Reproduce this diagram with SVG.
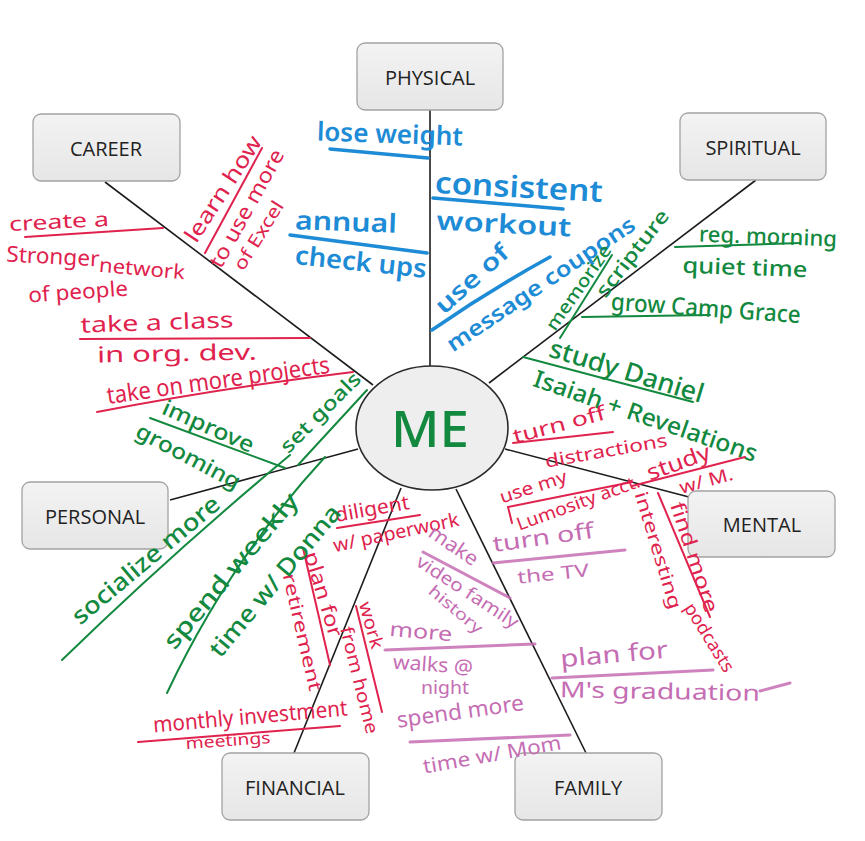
<svg xmlns="http://www.w3.org/2000/svg" width="865" height="841" viewBox="0 0 865 841">
<defs>
<linearGradient id="boxg" x1="0" y1="0" x2="0" y2="1">
<stop offset="0" stop-color="#f3f3f3"/>
<stop offset="1" stop-color="#e6e6e6"/>
</linearGradient>
</defs>
<style>
.box{fill:url(#boxg);stroke:#a2a2a2;stroke-width:1.3}
.lbl{font-family:"Open Sans","Liberation Sans",sans-serif;font-size:20px;fill:#222;text-anchor:middle;dominant-baseline:central}
.hw{font-family:"Noto Sans","DejaVu Sans",sans-serif;text-anchor:middle;dominant-baseline:central}
.r{fill:#e0224e}
.b{fill:#1d8bd5;font-weight:600}
.g{fill:#13893f;font-weight:500}
.p{fill:#c56db3}
.con{stroke:#1c1c1c;stroke-width:1.6;fill:none}
.ur{stroke:#e0224e;stroke-width:2;fill:none;stroke-linecap:round}
.ub{stroke:#1d8bd5;stroke-width:3.5;fill:none;stroke-linecap:round}
.ug{stroke:#13893f;stroke-width:2;fill:none;stroke-linecap:round}
.up{stroke:#c56db3;stroke-width:3;fill:none;stroke-linecap:round;opacity:0.85}
</style>
<rect width="865" height="841" fill="#ffffff"/>

<g id="connectors">
<line class="con" x1="430" y1="110" x2="430" y2="366"/>
<line class="con" x1="105" y1="182" x2="373" y2="385"/>
<line class="con" x1="756" y1="180" x2="489" y2="383"/>
<line class="con" x1="170" y1="500" x2="358" y2="449"/>
<line class="con" x1="505" y1="449" x2="689" y2="497"/>
<line class="con" x1="401" y1="488" x2="294" y2="753"/>
<line class="con" x1="456" y1="489" x2="586" y2="753"/>
</g>

<g id="node-me">
<ellipse cx="432" cy="428" rx="76" ry="62" fill="#eeeeee" stroke="#2a2a2a" stroke-width="1.6"/>
<text class="hw g" x="430" y="428" font-size="50" font-weight="400" textLength="78" lengthAdjust="spacingAndGlyphs">ME</text>
</g>
<g id="node-physical"><rect class="box" x="357" y="43" width="146" height="67" rx="8"/><text class="lbl" x="430" y="77">PHYSICAL</text></g>
<g id="node-career"><rect class="box" x="33" y="114" width="147" height="67" rx="8"/><text class="lbl" x="106" y="148">CAREER</text></g>
<g id="node-spiritual"><rect class="box" x="680" y="113" width="146" height="67" rx="8"/><text class="lbl" x="753" y="147">SPIRITUAL</text></g>
<g id="node-personal"><rect class="box" x="22" y="482" width="146" height="67" rx="8"/><text class="lbl" x="95" y="516">PERSONAL</text></g>
<g id="node-mental"><rect class="box" x="688" y="491" width="147" height="66" rx="8"/><text class="lbl" x="762" y="524">MENTAL</text></g>
<g id="node-financial"><rect class="box" x="222" y="753" width="147" height="67" rx="8"/><text class="lbl" x="295" y="787">FINANCIAL</text></g>
<g id="node-family"><rect class="box" x="515" y="753" width="147" height="67" rx="8"/><text class="lbl" x="588" y="787">FAMILY</text></g>

<g id="notes-career">
<text class="hw r" x="59" y="221" font-size="20" textLength="100" lengthAdjust="spacingAndGlyphs" transform="rotate(-3 59 221)">create a</text>
<line class="ur" x1="25" y1="237" x2="163" y2="228"/>
<text class="hw r" x="53" y="255" font-size="22" textLength="93" lengthAdjust="spacingAndGlyphs" transform="rotate(3 53 255)">Stronger</text>
<text class="hw r" x="142" y="268" font-size="20" textLength="86" lengthAdjust="spacingAndGlyphs" transform="rotate(5 142 268)">network</text>
<text class="hw r" x="78" y="291" font-size="21" textLength="100" lengthAdjust="spacingAndGlyphs" transform="rotate(-4 78 291)">of people</text>
<text class="hw r" x="222" y="188" font-size="22" textLength="122" lengthAdjust="spacingAndGlyphs" transform="rotate(-57 222 188)">learn how</text>
<line class="ur" x1="205" y1="253" x2="262" y2="148"/>
<text class="hw r" x="246" y="208" font-size="21" textLength="132" lengthAdjust="spacingAndGlyphs" transform="rotate(-61 246 208)">to use more</text>
<text class="hw r" x="258" y="235" font-size="18" textLength="78" lengthAdjust="spacingAndGlyphs" transform="rotate(-58 258 235)">of Excel</text>
<text class="hw r" x="157" y="321" font-size="22" textLength="153" lengthAdjust="spacingAndGlyphs" transform="rotate(-2 157 321)">take a class</text>
<line class="ur" x1="80" y1="339" x2="310" y2="338"/>
<text class="hw r" x="177" y="352" font-size="22" textLength="160" lengthAdjust="spacingAndGlyphs" transform="rotate(-1 177 352)">in org. dev.</text>
<text class="hw r" x="218" y="379" font-size="24" textLength="225" lengthAdjust="spacingAndGlyphs" transform="rotate(-8 218 379)">take on more projects</text>
<path class="ur" d="M97 412 Q220 388 353 372"/>
</g>

<g id="notes-physical">
<text class="hw b" x="390" y="133" font-size="26" textLength="146" lengthAdjust="spacingAndGlyphs" transform="rotate(2 390 133)">lose weight</text>
<line class="ub" x1="330" y1="149" x2="428" y2="158"/>
<text class="hw b" x="519" y="186" font-size="30" textLength="168" lengthAdjust="spacingAndGlyphs" transform="rotate(3 519 186)">consistent</text>
<line class="ub" x1="433" y1="198" x2="563" y2="209"/>
<text class="hw b" x="504" y="223" font-size="26" textLength="135" lengthAdjust="spacingAndGlyphs" transform="rotate(3 504 223)">workout</text>
<text class="hw b" x="346" y="221" font-size="26" textLength="102" lengthAdjust="spacingAndGlyphs" transform="rotate(2 346 221)">annual</text>
<line class="ub" x1="290" y1="235" x2="427" y2="253"/>
<text class="hw b" x="361" y="261" font-size="26" textLength="132" lengthAdjust="spacingAndGlyphs" transform="rotate(6 361 261)">check ups</text>
<text class="hw b" x="471" y="278" font-size="24" textLength="90" lengthAdjust="spacingAndGlyphs" transform="rotate(-42 471 278)">use of</text>
<path class="ub" d="M432 330 Q490 290 550 257"/>
<text class="hw b" x="540" y="283" font-size="22" textLength="222" lengthAdjust="spacingAndGlyphs" transform="rotate(-34 540 283)">message coupons</text>
</g>

<g id="notes-spiritual">
<text class="hw g" x="578" y="287" font-size="18" textLength="100" lengthAdjust="spacingAndGlyphs" transform="rotate(-55 578 287)">memorize</text>
<line class="ug" x1="560" y1="338" x2="612" y2="255"/>
<text class="hw g" x="632" y="253" font-size="20" textLength="105" lengthAdjust="spacingAndGlyphs" transform="rotate(-52 632 253)">scripture</text>
<text class="hw g" x="768" y="235" font-size="22" textLength="138" lengthAdjust="spacingAndGlyphs" transform="rotate(2 768 235)">reg. morning</text>
<line class="ug" x1="675" y1="247" x2="800" y2="243"/>
<text class="hw g" x="745" y="266" font-size="22" textLength="125" lengthAdjust="spacingAndGlyphs" transform="rotate(2 745 266)">quiet time</text>
<text class="hw g" x="706" y="307" font-size="24" textLength="190" lengthAdjust="spacingAndGlyphs" transform="rotate(4 706 307)">grow Camp Grace</text>
<line class="ug" x1="582" y1="317" x2="710" y2="315"/>
<text class="hw g" x="627" y="370" font-size="26" textLength="160" lengthAdjust="spacingAndGlyphs" transform="rotate(17 627 370)">study Daniel</text>
<line class="ug" x1="523" y1="357" x2="693" y2="402"/>
<text class="hw g" x="646" y="415" font-size="24" textLength="235" lengthAdjust="spacingAndGlyphs" transform="rotate(19 646 415)">Isaiah + Revelations</text>
</g>

<g id="notes-mental">
<text class="hw r" x="559" y="424" font-size="20" textLength="95" lengthAdjust="spacingAndGlyphs" transform="rotate(-15 559 424)">turn off</text>
<line class="ur" x1="513" y1="443" x2="613" y2="432"/>
<text class="hw r" x="606" y="450" font-size="18" textLength="124" lengthAdjust="spacingAndGlyphs" transform="rotate(-10 606 450)">distractions</text>
<text class="hw r" x="533" y="486" font-size="18" textLength="70" lengthAdjust="spacingAndGlyphs" transform="rotate(-18 533 486)">use my</text>
<polyline class="ur" points="512,523 508,507 632,482"/>
<text class="hw r" x="578" y="502" font-size="18" textLength="130" lengthAdjust="spacingAndGlyphs" transform="rotate(-20 578 502)">Lumosity acct.</text>
<text class="hw r" x="678" y="461" font-size="22" textLength="66" lengthAdjust="spacingAndGlyphs" transform="rotate(-20 678 461)">study</text>
<line class="ur" x1="632" y1="486" x2="745" y2="457"/>
<text class="hw r" x="706" y="480" font-size="18" textLength="55" lengthAdjust="spacingAndGlyphs" transform="rotate(-15 706 480)">w/ M.</text>
<text class="hw r" x="695" y="557" font-size="20" textLength="115" lengthAdjust="spacingAndGlyphs" transform="rotate(72 695 557)">find more</text>
<line class="ur" x1="658" y1="493" x2="710" y2="617"/>
<text class="hw r" x="659" y="550" font-size="18" textLength="122" lengthAdjust="spacingAndGlyphs" transform="rotate(73 659 550)">interesting</text>
<text class="hw r" x="710" y="637" font-size="18" textLength="78" lengthAdjust="spacingAndGlyphs" transform="rotate(58 710 637)">podcasts</text>
</g>

<g id="notes-financial">
<text class="hw r" x="372" y="508" font-size="20" textLength="75" lengthAdjust="spacingAndGlyphs" transform="rotate(-10 372 508)">diligent</text>
<line class="ur" x1="337" y1="528" x2="420" y2="515"/>
<text class="hw r" x="396" y="532" font-size="19" textLength="128" lengthAdjust="spacingAndGlyphs" transform="rotate(-12 396 532)">w/ paperwork</text>
<text class="hw r" x="324" y="594" font-size="20" textLength="88" lengthAdjust="spacingAndGlyphs" transform="rotate(73 324 594)">plan for</text>
<line class="ur" x1="303" y1="548" x2="330" y2="665"/>
<text class="hw r" x="303" y="632" font-size="18" textLength="120" lengthAdjust="spacingAndGlyphs" transform="rotate(77 303 632)">retirement</text>
<text class="hw r" x="372" y="625" font-size="18" textLength="48" lengthAdjust="spacingAndGlyphs" transform="rotate(74 372 625)">work</text>
<line class="ur" x1="356" y1="606" x2="382" y2="712"/>
<text class="hw r" x="360" y="680" font-size="18" textLength="110" lengthAdjust="spacingAndGlyphs" transform="rotate(76 360 680)">from home</text>
<text class="hw r" x="250" y="715" font-size="22" textLength="195" lengthAdjust="spacingAndGlyphs" transform="rotate(-5 250 715)">monthly investment</text>
<line class="ur" x1="138" y1="742" x2="340" y2="726"/>
<text class="hw r" x="228" y="740" font-size="16" textLength="85" lengthAdjust="spacingAndGlyphs" transform="rotate(-4 228 740)">meetings</text>
</g>

<g id="notes-personal">
<text class="hw g" x="209" y="425" font-size="22" textLength="98" lengthAdjust="spacingAndGlyphs" transform="rotate(24 209 425)">improve</text>
<line class="ug" x1="150" y1="418" x2="285" y2="468"/>
<text class="hw g" x="189" y="455" font-size="22" textLength="115" lengthAdjust="spacingAndGlyphs" transform="rotate(28 189 455)">grooming</text>
<text class="hw g" x="320" y="412" font-size="20" textLength="105" lengthAdjust="spacingAndGlyphs" transform="rotate(-45 320 412)">set goals</text>
<line class="ug" x1="298" y1="465" x2="367" y2="390"/>
<text class="hw g" x="145" y="559" font-size="24" textLength="185" lengthAdjust="spacingAndGlyphs" transform="rotate(-40 145 559)">socialize more</text>
<path class="ug" d="M62 660 Q170 555 290 455"/>
<text class="hw g" x="230" y="570" font-size="24" textLength="195" lengthAdjust="spacingAndGlyphs" transform="rotate(-50 230 570)">spend weekly</text>
<path class="ug" d="M167 693 Q230 560 325 457"/>
<text class="hw g" x="274" y="580" font-size="24" textLength="190" lengthAdjust="spacingAndGlyphs" transform="rotate(-50 274 580)">time w/ Donna</text>
</g>

<g id="notes-family">
<text class="hw p" x="454" y="545" font-size="20" textLength="55" lengthAdjust="spacingAndGlyphs" transform="rotate(34 454 545)">make</text>
<line class="up" x1="423" y1="552" x2="510" y2="598"/>
<text class="hw p" x="468" y="591" font-size="18" textLength="118" lengthAdjust="spacingAndGlyphs" transform="rotate(33 468 591)">video family</text>
<text class="hw p" x="456" y="609" font-size="16" textLength="65" lengthAdjust="spacingAndGlyphs" transform="rotate(40 456 609)">history</text>
<text class="hw p" x="543" y="536" font-size="22" textLength="102" lengthAdjust="spacingAndGlyphs" transform="rotate(-8 543 536)">turn off</text>
<line class="up" x1="493" y1="563" x2="625" y2="550"/>
<text class="hw p" x="553" y="573" font-size="18" textLength="72" lengthAdjust="spacingAndGlyphs" transform="rotate(-6 553 573)">the TV</text>
<text class="hw p" x="421" y="631" font-size="20" textLength="63" lengthAdjust="spacingAndGlyphs" transform="rotate(5 421 631)">more</text>
<line class="up" x1="385" y1="650" x2="535" y2="644"/>
<text class="hw p" x="433" y="664" font-size="20" textLength="80" lengthAdjust="spacingAndGlyphs" transform="rotate(4 433 664)">walks @</text>
<text class="hw p" x="445" y="687" font-size="18" textLength="48" lengthAdjust="spacingAndGlyphs">night</text>
<text class="hw p" x="460" y="710" font-size="22" textLength="128" lengthAdjust="spacingAndGlyphs" transform="rotate(-8 460 710)">spend more</text>
<line class="up" x1="410" y1="742" x2="570" y2="735"/>
<text class="hw p" x="492" y="754" font-size="20" textLength="140" lengthAdjust="spacingAndGlyphs" transform="rotate(-10 492 754)">time w/ Mom</text>
<text class="hw p" x="614" y="653" font-size="24" textLength="108" lengthAdjust="spacingAndGlyphs" transform="rotate(-5 614 653)">plan for</text>
<line class="up" x1="552" y1="678" x2="713" y2="670"/>
<text class="hw p" x="660" y="690" font-size="22" textLength="200" lengthAdjust="spacingAndGlyphs" transform="rotate(1 660 690)">M's graduation</text>
<path class="up" d="M760 691 Q775 687 790 683" stroke-width="2"/>
</g>
</svg>
